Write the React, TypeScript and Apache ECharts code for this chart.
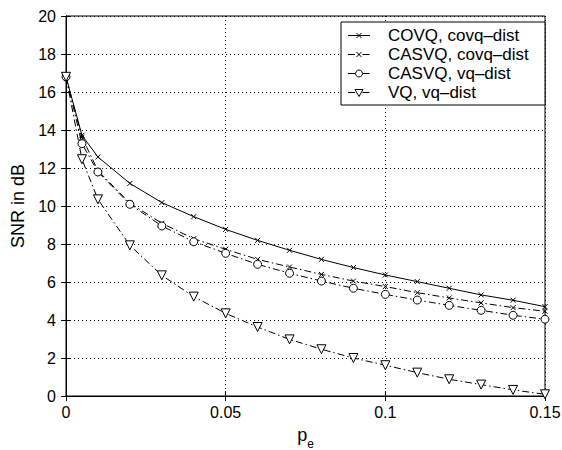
import React, { useEffect, useRef } from "react";
import * as echarts from "echarts";

const pe = [0, 0.005, 0.01, 0.02, 0.03, 0.04, 0.05, 0.06, 0.07, 0.08, 0.09, 0.1, 0.11, 0.12, 0.13, 0.14, 0.15];
const covqCovq = [16.8, 13.72, 12.58, 11.19, 10.18, 9.44, 8.77, 8.19, 7.67, 7.19, 6.76, 6.37, 6.02, 5.67, 5.32, 5.04, 4.7];
const casvqCovq = [16.8, 13.62, 11.86, 10.15, 9.09, 8.28, 7.72, 7.19, 6.79, 6.4, 6.05, 5.76, 5.44, 5.16, 4.9, 4.65, 4.46];
const casvqVq = [16.8, 13.28, 11.79, 10.09, 8.95, 8.12, 7.51, 6.93, 6.46, 6.05, 5.67, 5.35, 5.05, 4.77, 4.51, 4.25, 4.04];
const vqVq = [16.8, 12.46, 10.35, 7.93, 6.35, 5.23, 4.35, 3.63, 2.98, 2.46, 2.0, 1.62, 1.23, 0.88, 0.6, 0.32, 0.09];
const seriesNames = ["COVQ, covq\u2013dist", "CASVQ, covq\u2013dist", "CASVQ, vq\u2013dist", "VQ, vq\u2013dist"];
const seriesMarkers = ["x", "x", "circle", "triangle"];
const seriesDash = ["solid", "dashdot", "dashdot", "dashdot"];

const FONT = "Liberation Sans, Arial, Helvetica, sans-serif";
const X_SYMBOL = "path://M0,0L10,10M10,0L0,10";
const DASHDOT = [7, 3, 1.5, 3];

function legendGraphics() {
  const boxX = 341, boxY = 22, boxW = 204, boxH = 83;
  const rowY0 = 35.5, rowStep = 19;
  const lineX1 = 348, lineX2 = 370, markX = 359, textX = 388;
  const els: any[] = [
    { type: "rect", shape: { x: boxX, y: boxY, width: boxW, height: boxH }, style: { fill: "#fff", stroke: "#000", lineWidth: 1 }, z: 100 },
  ];
  seriesNames.forEach((name, i) => {
    const y = rowY0 + i * rowStep;
    const dash = seriesDash[i] === "solid" ? null : DASHDOT;
    els.push({
      type: "line",
      shape: { x1: lineX1, y1: y, x2: lineX2, y2: y },
      style: { stroke: "#000", lineWidth: 1, lineDash: dash },
      z: 101,
    });
    const m = seriesMarkers[i];
    if (m === "x") {
      const s = 2.5;
      els.push({ type: "line", shape: { x1: markX - s, y1: y - s, x2: markX + s, y2: y + s }, style: { stroke: "#000", lineWidth: 1 }, z: 102 });
      els.push({ type: "line", shape: { x1: markX - s, y1: y + s, x2: markX + s, y2: y - s }, style: { stroke: "#000", lineWidth: 1 }, z: 102 });
    } else if (m === "circle") {
      els.push({ type: "circle", shape: { cx: markX, cy: y, r: 3.5 }, style: { fill: "#fff", stroke: "#000", lineWidth: 1 }, z: 102 });
    } else {
      els.push({
        type: "polygon",
        shape: { points: [[markX - 4, y - 3], [markX + 4, y - 3], [markX, y + 4]] },
        style: { fill: "#fff", stroke: "#000", lineWidth: 1 },
        z: 102,
      });
    }
    els.push({
      type: "text",
      style: { text: name, x: textX, y, fill: "#000", fontSize: 17, fontFamily: FONT, verticalAlign: "middle", align: "left" },
      z: 102,
    });
  });
  return els;
}

export default function App() {
  const ref = useRef<HTMLDivElement>(null);
  useEffect(() => {
    if (!ref.current) return;
    const chart = echarts.init(ref.current, undefined, { renderer: "svg" });
    const mk = (ys: number[]) => pe.map((x, i) => [x, ys[i]]);
    const mkSeries = (name: string, ys: number[], symbol: string, size: number, dash: any, rotate = 0) => ({
      name,
      type: "line",
      data: mk(ys),
      symbol,
      symbolSize: size,
      symbolRotate: rotate,
      showSymbol: true,
      color: "#000",
      lineStyle: { color: "#000", width: 1, type: dash },
      itemStyle: { color: "#fff", borderColor: "#000", borderWidth: 1 },
      emphasis: { disabled: true },
      z: 3,
    });
    chart.setOption({
      animation: false,
      backgroundColor: "#fff",
      textStyle: { fontFamily: FONT },
      grid: {
        left: 66, right: 17, top: 16, bottom: 54,
        containLabel: false, outerBoundsMode: "none",
        show: true, borderColor: "#000", borderWidth: 1, backgroundColor: "transparent",
      },
      legend: { show: false },
      graphic: legendGraphics(),
      xAxis: [
        {
          type: "value",
          min: 0,
          max: 0.15,
          interval: 0.05,
          name: "{p|p}{e|e}",
          nameLocation: "middle",
          nameGap: 30,
          nameTextStyle: {
            rich: {
              p: { fontSize: 18, color: "#000", fontFamily: FONT, lineHeight: 24, verticalAlign: "top" },
              e: { fontSize: 12, color: "#000", fontFamily: FONT, lineHeight: 12, verticalAlign: "bottom" },
            },
          },
          axisLine: { show: true, lineStyle: { color: "#000", width: 1 } },
          axisTick: { show: true, inside: true, length: 5, lineStyle: { color: "#000" } },
          axisLabel: { fontSize: 16, color: "#000", margin: 8, fontFamily: FONT },
          splitLine: { show: true, lineStyle: { color: "#000", type: [1, 3], width: 1 } },
        },
        {
          type: "value",
          position: "top",
          min: 0,
          max: 0.15,
          interval: 0.05,
          axisLine: { show: true, lineStyle: { color: "#000", width: 1 } },
          axisTick: { show: true, inside: true, length: 5, lineStyle: { color: "#000" } },
          axisLabel: { show: false },
          splitLine: { show: false },
        },
      ],
      yAxis: [
        {
          type: "value",
          min: 0,
          max: 20,
          interval: 2,
          name: "SNR in dB",
          nameLocation: "middle",
          nameGap: 37,
          nameTextStyle: { fontSize: 18, color: "#000", fontFamily: FONT },
          axisLine: { show: true, lineStyle: { color: "#000", width: 1 } },
          axisTick: { show: true, inside: true, length: 5, lineStyle: { color: "#000" } },
          axisLabel: { fontSize: 16, color: "#000", margin: 10, fontFamily: FONT },
          splitLine: { show: true, lineStyle: { color: "#000", type: [1, 3], width: 1 } },
        },
        {
          type: "value",
          position: "right",
          min: 0,
          max: 20,
          interval: 2,
          axisLine: { show: true, lineStyle: { color: "#000", width: 1 } },
          axisTick: { show: true, inside: true, length: 5, lineStyle: { color: "#000" } },
          axisLabel: { show: false },
          splitLine: { show: false },
        },
      ],
      series: [
        mkSeries(seriesNames[0], covqCovq, X_SYMBOL, 5, "solid"),
        mkSeries(seriesNames[1], casvqCovq, X_SYMBOL, 5, DASHDOT),
        mkSeries(seriesNames[2], casvqVq, "circle", 8, DASHDOT),
        mkSeries(seriesNames[3], vqVq, "triangle", 9, DASHDOT, 180),
      ],
    });
    return () => chart.dispose();
  }, []);
  return <div ref={ref} style={{ width: 562, height: 450, position: "absolute", left: 0, top: 0 }} />;
}
